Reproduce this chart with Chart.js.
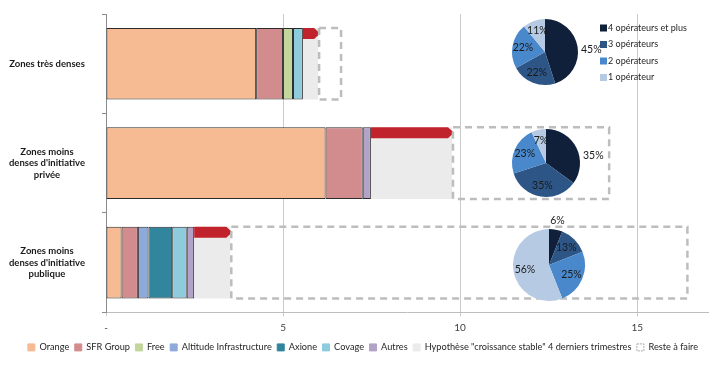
<!DOCTYPE html>
<html>
<head>
<meta charset="utf-8">
<script src="https://cdn.jsdelivr.net/npm/chart.js@4.4.1/dist/chart.umd.min.js"></script>
<style>
  html, body { margin: 0; padding: 0; background: #fff; }
  #wrap { position: relative; width: 714px; height: 366px; }
  #wrap canvas { position: absolute; }
</style>
</head>
<body>
<div id="wrap">
  <canvas id="bars" width="714" height="366" style="left:0;top:0"></canvas>
  <canvas id="pie1"></canvas>
  <canvas id="pie2"></canvas>
  <canvas id="pie3"></canvas>
</div>
<script>
// zones
const zones = [
    ['Zones très denses'],
    ['Zones moins', "denses d'initiative", 'privée'],
    ['Zones moins', "denses d'initiative", 'publique']
];

// lignes déployées par opérateur (millions)
const orange = [4.24, 6.20, 0.44];
const sfr = [0.76, 1.05, 0.46];
const free = [0.28, 0, 0];
const altitude = [0, 0, 0.30];
const axione = [0, 0, 0.67];
const covage = [0.28, 0, 0.41];
const autres = [0, 0.23, 0.21];
const hypothese = [0.43, 2.29, 1.02];
const reste = [0.62, 4.41, 12.88];

const xTicks = [0, 5, 10, 15];

// camemberts
const pieLabels = ['4 opérateurs et plus', '3 opérateurs', '2 opérateurs', '1 opérateur'];
const pieDenses = [45, 22, 22, 11];
const piePrivee = [35, 35, 23, 7];
const piePublique = [6, 13, 25, 56];
const pieColors = ['#10203a', '#2d5687', '#4a88cc', '#b6cae3'];

Chart.defaults.font.family = 'Lato, "DejaVu Sans", sans-serif';

const segBorder = '#2b2b2b';

// flèche rouge au dessus de l'hypothèse
const redArrow = {
    id: 'redArrow',
    afterDatasetsDraw(chart) {
        const ctx = chart.ctx;
        const meta = chart.getDatasetMeta(7);
        ctx.save();
        ctx.fillStyle = '#c0232b';
        meta.data.forEach(el => {
            const x0 = el.base, x1 = el.x;
            const y0 = el.y - el.height / 2;
            const ah = 11;
            ctx.beginPath();
            ctx.moveTo(x0, y0);
            ctx.lineTo(x1 - 4, y0);
            ctx.lineTo(x1 + 2, y0 + ah / 2);
            ctx.lineTo(x1 - 4, y0 + ah);
            ctx.lineTo(x0, y0 + ah);
            ctx.closePath();
            ctx.fill();
        });
        ctx.restore();
    }
};

// cadre pointillé pour "reste à faire"
const resteBox = {
    id: 'resteBox',
    afterDatasetsDraw(chart) {
        const ctx = chart.ctx;
        const meta = chart.getDatasetMeta(8);
        ctx.save();
        ctx.strokeStyle = '#bdbdbd';
        ctx.lineWidth = 2.5;
        ctx.setLineDash([7, 5]);
        meta.data.forEach(el => {
            const y0 = el.y - el.height / 2;
            ctx.strokeRect(el.base + 1, y0, el.x - el.base, el.height);
        });
        ctx.restore();
    }
};

// légende des camemberts
const pieLegend = {
    id: 'pieLegend',
    afterDraw(chart) {
        const ctx = chart.ctx;
        ctx.save();
        ctx.font = '9px Lato, sans-serif';
        ctx.textBaseline = 'middle';
        pieLabels.forEach((t, i) => {
            const y = 28 + i * 16.5;
            ctx.fillStyle = pieColors[i];
            ctx.fillRect(600, y - 3.5, 7, 7);
            ctx.fillStyle = '#262626';
            ctx.fillText(t, 608, y);
        });
        ctx.restore();
    }
};

// décale la légende du bas un peu vers la droite
const legendShift = {
    id: 'legendShift',
    afterLayout(chart) {
        chart.legend.left += 9;
        chart.legend.right += 9;
    }
};

function seg(label, data, color) {
    return {
        label: label,
        data: data,
        backgroundColor: color,
        borderColor: segBorder,
        borderWidth: 1,
        borderSkipped: false
    };
}

let ctxBars = document.getElementById('bars').getContext('2d');
let barChart = new Chart(ctxBars, {
    type: 'bar',
    data: {
        labels: zones,
        datasets: [
            seg('Orange', orange, '#f7bb93'),
            seg('SFR Group', sfr, '#d38c8e'),
            seg('Free', free, '#c3d69b'),
            seg('Altitude Infrastructure', altitude, '#8eaadb'),
            seg('Axione', axione, '#31859c'),
            seg('Covage', covage, '#8ecbdc'),
            seg('Autres', autres, '#b3a2c7'),
            {
                label: 'Hypothèse "croissance stable" 4 derniers trimestres',
                data: hypothese,
                backgroundColor: '#ebebeb',
                borderWidth: 0
            },
            {
                label: 'Reste à faire',
                data: reste,
                backgroundColor: 'rgba(255,255,255,0)',
                borderWidth: 0
            }
        ]
    },
    options: {
        responsive: false,
        animation: false,
        indexAxis: 'y',
        categoryPercentage: 1,
        barPercentage: 0.72,
        layout: { padding: { top: 14, right: 6, bottom: 4, left: 0 } },
        scales: {
            x: {
                stacked: true,
                min: 0,
                max: 17,
                ticks: {
                    stepSize: 5,
                    padding: 5,
                    color: '#404040',
                    font: { size: 10 },
                    callback: v => v === 0 ? '-' : v
                },
                afterBuildTicks: s => { s.ticks = s.ticks.filter(t => xTicks.includes(t.value)); },
                grid: { color: '#cacaca', tickLength: 4 },
                border: { color: '#bdbdbd' },
                afterFit: s => { s.height = 25; s.paddingLeft = 0; s.paddingRight = 0; }
            },
            y: {
                stacked: true,
                ticks: {
                    crossAlign: 'center',
                    padding: 17,
                    color: '#1a1a1a',
                    font: { size: 9.5, weight: 'bold' }
                },
                grid: { drawOnChartArea: false, tickLength: 4, color: '#8c8c8c' },
                border: { color: '#8c8c8c' },
                afterFit: s => { s.width = 106; s.paddingTop = 0; s.paddingBottom = 0; }
            }
        },
        plugins: {
            tooltip: { enabled: false },
            legend: {
                position: 'bottom',
                labels: {
                    boxWidth: 7,
                    boxHeight: 7,
                    padding: 5.5,
                    color: '#262626',
                    font: { size: 9.2 },
                    generateLabels: chart => {
                        let items = Chart.defaults.plugins.legend.labels.generateLabels(chart);
                        items.forEach((it, i) => {
                            it.strokeStyle = it.fillStyle;
                            it.lineWidth = 1;
                            if (i === 8) {
                                it.fillStyle = '#ffffff';
                                it.strokeStyle = '#a8a8a8';
                                it.lineDash = [2, 1];
                            }
                        });
                        return items;
                    }
                }
            }
        }
    },
    plugins: [redArrow, resteBox, pieLegend, legendShift]
});

// pourcentages des camemberts
const pctLabels = {
    id: 'pctLabels',
    afterDatasetsDraw(chart) {
        const ctx = chart.ctx;
        const meta = chart.getDatasetMeta(0);
        const vals = chart.data.datasets[0].data;
        ctx.save();
        ctx.font = '10.5px Lato, sans-serif';
        ctx.fillStyle = '#1a1a1a';
        ctx.textBaseline = 'middle';
        meta.data.forEach((arc, i) => {
            const mid = (arc.startAngle + arc.endAngle) / 2;
            const r = arc.outerRadius;
            let x, y;
            ctx.textAlign = 'center';
            if (i === 0 && Math.cos(mid) > 0.7) {
                x = arc.x + r + 3;
                y = arc.y + Math.sin(mid) * r * 0.45;
                ctx.textAlign = 'left';
            } else if (i === 0) {
                x = arc.x + Math.cos(mid) * r * 1.25;
                y = arc.y + Math.sin(mid) * r * 1.25;
            } else {
                x = arc.x + Math.cos(mid) * r * 0.68;
                y = arc.y + Math.sin(mid) * r * 0.68;
            }
            ctx.fillText(vals[i] + '%', x, y);
        });
        ctx.restore();
    }
};

function makePie(id, cx, cy, r, values) {
    const cv = document.getElementById(id);
    const padX = 45, padY = 16;
    cv.width = 2 * r + 2 * padX;
    cv.height = 2 * r + 2 * padY;
    cv.style.left = (cx - r - padX) + 'px';
    cv.style.top = (cy - r - padY) + 'px';
    return new Chart(cv.getContext('2d'), {
        type: 'pie',
        data: {
            labels: pieLabels,
            datasets: [{ data: values, backgroundColor: pieColors, borderWidth: 0 }]
        },
        options: {
            responsive: false,
            animation: false,
            layout: { padding: { left: padX, right: padX, top: padY, bottom: padY } },
            plugins: { legend: { display: false }, tooltip: { enabled: false } }
        },
        plugins: [pctLabels]
    });
}

makePie('pie1', 545, 52, 33, pieDenses);
makePie('pie2', 546, 163, 34, piePrivee);
makePie('pie3', 549, 265, 36, piePublique);
</script>
</body>
</html>
